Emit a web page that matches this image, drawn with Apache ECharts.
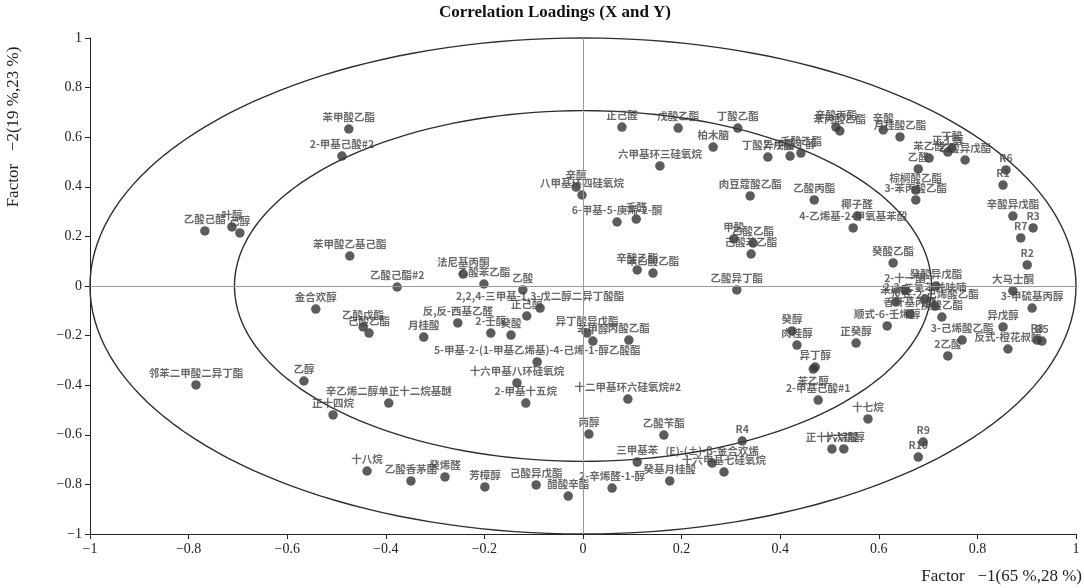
<!DOCTYPE html>
<html>
<head>
<meta charset="utf-8">
<script src="https://cdn.jsdelivr.net/npm/echarts@6/dist/echarts.min.js"></script>
<style>
  html, body { margin: 0; padding: 0; background: #ffffff; }
  #chart { width: 1084px; height: 588px; }
</style>
</head>
<body>
<div id="chart"></div>
<script>
// Compound / sample names, and their loadings on factor 1 and factor 2
const compoundNames = [
  "乙酸己酯", "叶醇", "己醇", "邻苯二甲酸二异丁酯", "金合欢醇", "乙醇",
  "苯甲酸乙酯", "2-甲基己酸#2", "苯甲酸乙基己酯", "乙酸己酯#2", "法尼基丙酮", "乙酸苯乙酯",
  "乙酸", "2,2,4-三甲基-1,3-戊二醇二异丁酸酯", "正己醇", "反,反-西基乙醛", "月桂酸", "乙酸戊酯",
  "己酸乙酯", "2-壬醇", "癸酸", "5-甲基-2-(1-甲基乙烯基)-4-己烯-1-醇乙酸酯", "十六甲基八环硅氧烷", "2-甲基十五烷",
  "辛乙烯二醇单正十二烷基醚", "正十四烷", "十八烷", "乙酸香茅酯", "癸烯醛", "芳樟醇",
  "己酸异戊酯", "醋酸辛酯", "丙醇", "乙酸苄酯", "R4", "三甲基苯",
  "(E)-(±)-β-金合欢烯", "十六甲基七硅氧烷", "2-辛烯醛-1-醇", "癸基月桂酸", "正己醛", "戊酸乙酯",
  "柏木脑", "六甲基环三硅氧烷", "辛醇", "八甲基环四硅氧烷", "6-甲基-5-庚烯-2-酮", "壬醛",
  "辛酸乙酯", "苯乙酸乙酯", "乙酸异丁酯", "丁酸乙酯", "丁酸异戊酯", "2-甲基丁醇",
  "壬酸乙酯", "辛酸丙酯", "苯丙酸乙酯", "辛酸", "月桂酸乙酯", "苯乙醛",
  "正丁醇", "丁酸", "乙酸异戊酯", "乙醛", "棕榈酸乙酯", "3-苯丙酸乙酯",
  "R6", "R1", "辛酸异戊酯", "R3", "R7", "R2",
  "大马士酮", "3-甲硫基丙醇", "异戊醇", "R8", "R5", "反式-橙花叔醇",
  "3-己烯酸乙酯", "2乙酸", "癸酸乙酯", "肉豆蔻酸乙酯", "乙酸丙酯", "椰子醛",
  "4-乙烯基-2-甲氧基苯酚", "甲酸", "乙酸乙酯", "己酸苯乙酯", "癸酸异戊酯", "2,3-二氢苯并呋喃",
  "反式-2-己烯酸乙酯", "顺式-6-壬烯醇", "香叶基丙酮", "庚酸乙酯", "苯甲醛", "2-十一酮",
  "十七烷", "正十六烷酸", "十六烷醇", "R9", "R10", "2-甲基己酸#1",
  "正癸醇", "肉桂醇", "癸醇", "异丁醇", "苯乙醇", "异丁酸异戊酯",
  "苯甲醇", "丙酸乙酯", "十二甲基环六硅氧烷#2"
];

const factor1 = [
  -0.767, -0.712, -0.696, -0.785, -0.542, -0.566,
  -0.475, -0.489, -0.473, -0.377, -0.243, -0.201,
  -0.122, -0.087, -0.114, -0.254, -0.323, -0.446,
  -0.434, -0.187, -0.146, -0.093, -0.134, -0.116,
  -0.394, -0.507, -0.438, -0.349, -0.280, -0.199,
  -0.095, -0.030, 0.012, 0.164, 0.323, 0.110,
  0.262, 0.286, 0.059, 0.176, 0.079, 0.193,
  0.264, 0.156, -0.014, -0.002, 0.069, 0.108,
  0.110, 0.142, 0.312, 0.314, 0.375, 0.420,
  0.442, 0.513, 0.521, 0.609, 0.643, 0.702,
  0.740, 0.748, 0.775, 0.680, 0.675, 0.675,
  0.858, 0.852, 0.872, 0.913, 0.888, 0.901,
  0.872, 0.911, 0.852, 0.921, 0.931, 0.862,
  0.769, 0.740, 0.629, 0.339, 0.469, 0.556,
  0.548, 0.306, 0.345, 0.341, 0.716, 0.694,
  0.714, 0.617, 0.663, 0.728, 0.635, 0.653,
  0.578, 0.505, 0.529, 0.690, 0.680, 0.477,
  0.554, 0.434, 0.424, 0.471, 0.467, 0.008,
  0.020, 0.093, 0.091
];

const factor2 = [
  0.222, 0.238, 0.214, -0.399, -0.093, -0.383,
  0.633, 0.524, 0.121, -0.004, 0.048, 0.008,
  -0.016, -0.089, -0.121, -0.149, -0.206, -0.165,
  -0.190, -0.190, -0.198, -0.306, -0.391, -0.472,
  -0.472, -0.520, -0.746, -0.786, -0.770, -0.810,
  -0.802, -0.847, -0.597, -0.601, -0.625, -0.710,
  -0.714, -0.750, -0.815, -0.786, 0.641, 0.637,
  0.560, 0.484, 0.399, 0.367, 0.258, 0.270,
  0.065, 0.052, -0.016, 0.637, 0.520, 0.524,
  0.536, 0.641, 0.625, 0.629, 0.601, 0.516,
  0.540, 0.556, 0.508, 0.472, 0.387, 0.347,
  0.468, 0.407, 0.282, 0.234, 0.194, 0.085,
  -0.020, -0.089, -0.165, -0.218, -0.222, -0.254,
  -0.218, -0.282, 0.093, 0.363, 0.347, 0.282,
  0.234, 0.190, 0.173, 0.129, 0.000, -0.052,
  -0.081, -0.161, -0.113, -0.125, -0.065, -0.016,
  -0.536, -0.657, -0.657, -0.629, -0.690, -0.460,
  -0.230, -0.238, -0.181, -0.327, -0.335, -0.190,
  -0.222, -0.218, -0.456
];

// Explained-variance reference circles (100% and 50%)
const circleRadii = [1, 0.707];

// Axis range and tick step shared by both factors
const axisMin = -1;
const axisMax = 1;
const axisStep = 0.2;

// Titles
const chartTitle = "Correlation Loadings (X and Y)";
const xAxisTitle = "Factor   −1(65 %,28 %)";
const yAxisTitle = "Factor   −2(19 %,23 %)";

// Labels that sit under their point instead of above it
const labelBelow = new Set(["苯乙醇"]);

const serif = '"Liberation Serif", "DejaVu Serif", serif';
const cjk = '"Noto Sans CJK SC", "Noto Sans", sans-serif';

const points = compoundNames.map((name, i) => {
  const item = { name: name, value: [factor1[i], factor2[i]] };
  if (labelBelow.has(name)) item.label = { position: 'bottom' };
  return item;
});

function tickText(v) {
  const n = Number(v.toFixed(1));
  if (n === 0) return '0';
  return n < 0 ? '−' + String(Math.abs(n)) : String(n);
}

function valueAxis() {
  return {
    type: 'value',
    min: axisMin,
    max: axisMax,
    interval: axisStep,
    axisLine: { show: true, onZero: false, lineStyle: { color: '#222', width: 1 } },
    axisTick: { show: true, inside: false, length: 5, lineStyle: { color: '#222' } },
    splitLine: { show: false },
    axisLabel: {
      formatter: tickText,
      fontFamily: serif,
      fontSize: 14,
      color: '#222',
      margin: 8
    }
  };
}

const chart = echarts.init(document.getElementById('chart'), null, { renderer: 'canvas' });

chart.setOption({
  backgroundColor: '#ffffff',
  animation: false,
  grid: { left: 90, right: 8, top: 38, bottom: 54, containLabel: false },
  xAxis: valueAxis(),
  yAxis: valueAxis(),
  graphic: [
    {
      type: 'text', x: 555, y: 4,
      style: { text: chartTitle, font: 'bold 17px ' + serif, fill: '#111', textAlign: 'center', textVerticalAlign: 'top' }
    },
    {
      type: 'text', x: 14, y: 127, rotation: Math.PI / 2,
      style: { text: yAxisTitle, font: '17px ' + serif, fill: '#222', textAlign: 'center', textVerticalAlign: 'middle' }
    },
    {
      type: 'text', x: 1082, y: 577,
      style: { text: xAxisTitle, font: '17px ' + serif, fill: '#222', textAlign: 'right', textVerticalAlign: 'middle' }
    }
  ],
  series: [
    {
      type: 'custom',
      silent: true,
      z: 1,
      data: circleRadii.map(r => [r, 0]),
      renderItem: function (params, api) {
        const r = api.value(0);
        const pts = [];
        for (let k = 0; k <= 360; k += 2) {
          const t = k * Math.PI / 180;
          pts.push(api.coord([r * Math.cos(t), r * Math.sin(t)]));
        }
        return {
          type: 'polyline',
          shape: { points: pts },
          style: { fill: 'none', stroke: '#2e2e2e', lineWidth: 1.4 }
        };
      }
    },
    {
      type: 'scatter',
      z: 3,
      data: points,
      symbol: 'circle',
      symbolSize: 9.5,
      itemStyle: { color: '#333333' },
      label: {
        show: true,
        position: 'top',
        distance: 2,
        formatter: '{b}',
        fontFamily: cjk,
        fontSize: 10.5,
        fontWeight: 'bold',
        color: '#444444'
      },
      emphasis: { disabled: true },
      markLine: {
        silent: true,
        symbol: 'none',
        label: { show: false },
        lineStyle: { color: '#9a9a9a', type: 'solid', width: 1 },
        data: [{ xAxis: 0 }, { yAxis: 0 }]
      }
    }
  ]
});
</script>
</body>
</html>
